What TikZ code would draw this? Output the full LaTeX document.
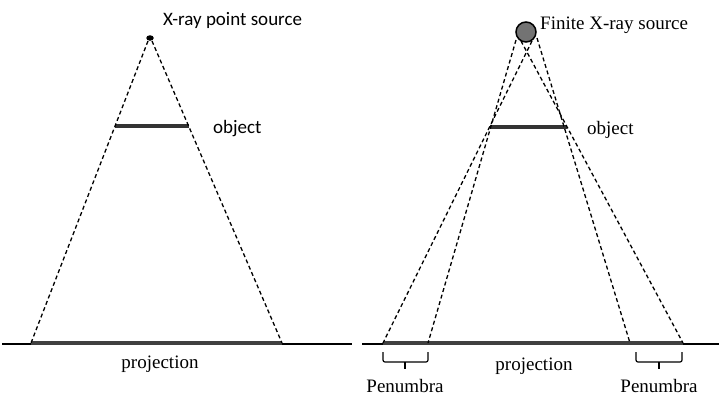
\documentclass[tikz,border=0pt]{standalone}
\usepackage{fontspec}
\setmainfont{Liberation Serif}
\newfontfamily\sansf{Carlito}
\usetikzlibrary{shapes.geometric}
\tikzset{
  ray/.style={line width=1.3pt, dash pattern=on 4pt off 2.8pt},
  objline/.style={line width=3.2pt, draw=black!80},
  projbar/.style={line width=3.4pt, draw=black!75},
  baseln/.style={line width=1.1pt},
  serlbl/.style={font=\fontsize{19}{21}\selectfont, inner sep=0pt},
  sanlbl/.style={font=\sansf\fontsize{19}{21}\selectfont, inner sep=0pt},
  bracepath/.style={line width=1.2pt, rounded corners=2pt},
}
\begin{document}
\begin{tikzpicture}[x=1pt,y=-1pt]
\useasboundingbox (0,0) rectangle (719,397);
% ---------- left diagram ----------
\coordinate (bl0) at (2,344);
\coordinate (bl1) at (352,344);
\draw[baseln] (bl0) -- (bl1);
\coordinate (pl0) at (31,343);
\coordinate (pl1) at (282,343);
\draw[projbar] (pl0) -- (pl1);
\coordinate (ol0) at (115,126);
\coordinate (ol1) at (189,126);
\draw[objline] (ol0) -- (ol1);
\node[ellipse, fill=black, minimum width=7.5pt, minimum height=5.5pt, inner sep=0pt] (ps) at (150,38) {};
\coordinate (psl) at (148,41);
\coordinate (psr) at (152,41);
\draw[ray] (psl) -- (pl0);
\draw[ray] (psr) -- (pl1);
\node[sanlbl, anchor=base west] (srcL) at (163,25) {X-ray point source};
\node[sanlbl, anchor=base west] (objL) at (213,133) {object};
\node[serlbl, anchor=base] (projL) at (160,368) {projection};
% ---------- right diagram ----------
\coordinate (br0) at (362,344);
\coordinate (br1) at (719,344);
\draw[baseln] (br0) -- (br1);
\coordinate (pr0) at (383,343);
\coordinate (pr1) at (683,343);
\draw[projbar] (pr0) -- (pr1);
\coordinate (pi0) at (428,343);
\coordinate (pi1) at (630,343);
\coordinate (or0) at (490,127);
\coordinate (or1) at (567,127);
\draw[objline] (or0) -- (or1);
\coordinate (s1) at (532,41);
\coordinate (s2) at (516,40);
\coordinate (s3) at (521,41);
\coordinate (s4) at (537,38);
\draw[ray] (s1) -- (pr0);
\draw[ray] (s2) -- (pi0);
\draw[ray] (s3) -- (pr1);
\draw[ray] (s4) -- (pi1);
\node[circle, draw=black, line width=1.5pt, fill=black!55, minimum size=20pt, inner sep=0pt] (fs) at (526,32) {};
\node[serlbl, anchor=base west] (srcR) at (540,29) {Finite X-ray source};
\node[serlbl, anchor=base west] (objR) at (587,134) {object};
\node[serlbl, anchor=base] (projR) at (534,370) {projection};
% braces
\coordinate (b1a) at (383,352);
\coordinate (b1b) at (428,352);
\coordinate (b1t) at (405,362);
\coordinate (b1e) at (405,369);
\draw[bracepath] (b1a) -- (383,362) -- (428,362) -- (b1b);
\draw[line width=1.2pt] (b1t) -- (b1e);
\coordinate (b2a) at (636,352);
\coordinate (b2b) at (682,352);
\coordinate (b2t) at (659,362);
\coordinate (b2e) at (659,369);
\draw[bracepath] (b2a) -- (636,362) -- (682,362) -- (b2b);
\draw[line width=1.2pt] (b2t) -- (b2e);
\node[serlbl, anchor=base] (pen1) at (405,392) {Penumbra};
\node[serlbl, anchor=base] (pen2) at (659,392) {Penumbra};
\end{tikzpicture}
\end{document}
